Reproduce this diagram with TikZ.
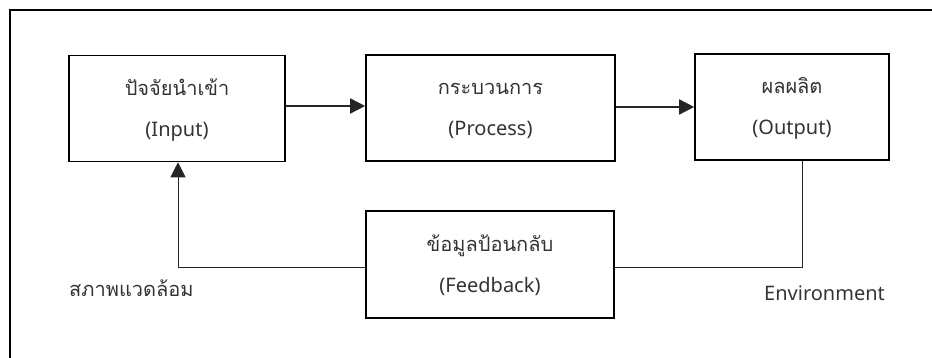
\documentclass[tikz,border=0pt]{standalone}
\usepackage{fontspec}
\setmainfont{Noto Sans}
\newfontfamily\thai[Script=Thai]{Loma}
\usetikzlibrary{arrows.meta}
\begin{document}
\begin{tikzpicture}[x=1pt,y=-1pt,
  blk/.style={draw=black,line width=1.6pt,minimum width=#1,minimum height=106pt,inner sep=0pt},
  blk/.default=216pt,
  th/.style={font=\thai\fontsize{20}{24}\selectfont,text=black!80,inner sep=0pt,anchor=base},
  en/.style={font=\fontsize{20}{24}\selectfont,text=black!80,inner sep=0pt,anchor=base},
  conn/.style={draw=black!85,line width=1pt},
  arr/.style={conn,-{Triangle[length=15pt,width=15pt]}}]
\useasboundingbox (0,0) rectangle (932,358);
\draw[line width=1.5pt] (10,400) -- (10,10) -- (1000,10);
% boxes
\node[blk=216pt] (in) at (177,108.5) {};
\node[blk=249pt] (pr) at (490.5,108) {};
\node[blk=194pt,minimum height=106pt] (out) at (792,107) {};
\node[blk=248pt,minimum height=107pt] (fb) at (490,264.5) {};
% texts
\node[th] (t1) at ([yshift=13pt]in.center) {ปัจจัยนำเข้า};
\node[en] (e1) at ([yshift=-28pt]in.center) {(Input)};
\node[th] (t2) at ([yshift=13pt]pr.center) {กระบวนการ};
\node[en] (e2) at ([yshift=-28pt]pr.center) {(Process)};
\node[th] (t3) at ([yshift=13pt]out.center) {ผลผลิต};
\node[en] (e3) at ([yshift=-28pt]out.center) {(Output)};
\node[th] (t4) at ([yshift=13pt]fb.center) {ข้อมูลป้อนกลับ};
\node[en] (e4) at ([yshift=-28pt]fb.center) {(Feedback)};
\node[th,anchor=base west] (env1) at (69,297) {สภาพแวดล้อม};
\node[en,anchor=base west] (env2) at (764,301) {Environment};
% connectors
\draw[arr,line width=1.5pt] ([yshift=2.5pt]in.east) -- ([yshift=2.5pt]in.east -| pr.west);
\draw[arr,line width=1.5pt] ([yshift=1pt]pr.east) -- ([yshift=1pt]pr.east -| out.west);
\coordinate (c1) at (802,268);
\coordinate (c2) at (178,268);
\draw[conn] (out.south -| c1) -- (c1) -- (c1 -| fb.east);
\draw[arr] (c2 -| fb.west) -- (c2) -- (c2 |- in.south);
\end{tikzpicture}
\end{document}
